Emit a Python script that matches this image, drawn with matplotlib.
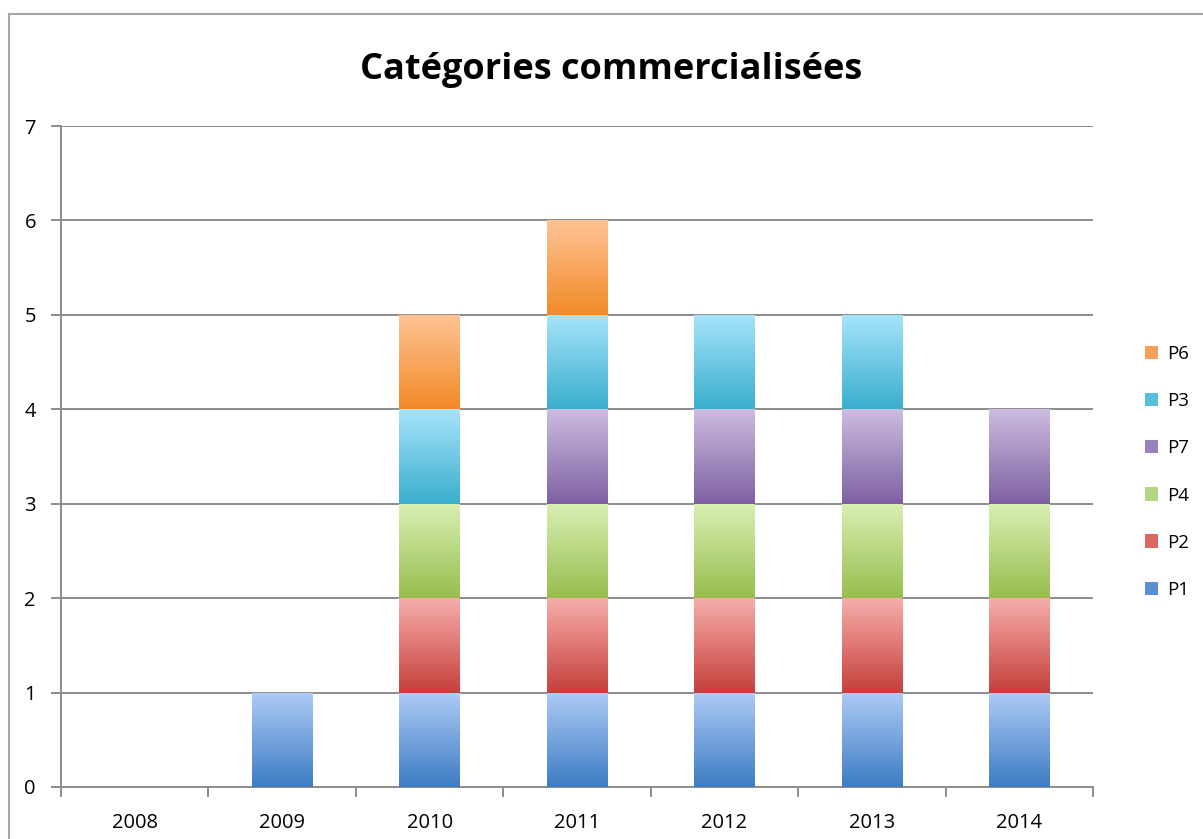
import numpy as np
import matplotlib.pyplot as plt
from matplotlib.patches import Patch, Rectangle
from matplotlib.colors import LinearSegmentedColormap

years = ["2008", "2009", "2010", "2011", "2012", "2013", "2014"]

# stacking order bottom -> top
series_names = ["P1", "P2", "P4", "P7", "P3", "P6"]
p1 = [0, 1, 1, 1, 1, 1, 1]
p2 = [0, 0, 1, 1, 1, 1, 1]
p4 = [0, 0, 1, 1, 1, 1, 1]
p7 = [0, 0, 0, 1, 1, 1, 1]
p3 = [0, 0, 1, 1, 1, 1, 0]
p6 = [0, 0, 1, 1, 0, 0, 0]

# (top light, bottom dark)
colors = {
    "P1": ("#aecbf6", "#3d7cc3"),
    "P2": ("#f6aeab", "#c63f3b"),
    "P4": ("#d8f0b3", "#98bd4e"),
    "P7": ("#cdbde0", "#7d60a2"),
    "P3": ("#a8e4fb", "#3aaecd"),
    "P6": ("#fdc495", "#f28a28"),
}
legend_colors = {
    "P1": "#5b8fd3", "P2": "#dc6763", "P4": "#b5d585",
    "P7": "#9a83bd", "P3": "#56c0db", "P6": "#f7a05a",
}

plt.rcParams['font.family'] = ['Open Sans', 'DejaVu Sans']

fig = plt.figure(figsize=(12.03, 8.39), dpi=100)
fig.patches.append(Rectangle((9 / 1203, -0.1), 1.1, 1.1 - 14 / 839, transform=fig.transFigure,
                             fill=False, edgecolor="#a6a6a6", linewidth=1.5, zorder=0))
ax = fig.add_axes([61 / 1203, 1 - 787 / 839, (1093 - 61) / 1203, (787 - 126) / 839])

x = np.arange(len(years))
width = 0.41
bottom = np.zeros(len(years))
values = [p1, p2, p4, p7, p3, p6]
grad = np.linspace(0, 1, 256).reshape(-1, 1)
for name, vals in zip(series_names, values):
    vals = np.array(vals, dtype=float)
    bars = ax.bar(x, vals, width, bottom=bottom, color="none", edgecolor="none", zorder=3)
    cmap = LinearSegmentedColormap.from_list(name, [colors[name][1], colors[name][0]])
    for rect, v in zip(bars, vals):
        if v <= 0:
            continue
        x0, y0 = rect.get_x(), rect.get_y()
        w, h = rect.get_width(), rect.get_height()
        im = ax.imshow(grad, cmap=cmap, origin="lower", aspect="auto",
                       extent=(x0, x0 + w, y0, y0 + h), zorder=3)
        im.set_clip_path(rect)
    bottom += vals

ax.set_xlim(-0.5, len(years) - 0.5)
ax.set_ylim(0, 7)
ax.set_yticks(range(0, 8))
ax.yaxis.grid(True, color="#8c8c8c", linewidth=1.4, zorder=1)
ax.set_axisbelow(True)

ax.set_xticks(x)
ax.set_xticklabels(years)
ax.set_xticks(np.arange(-0.5, len(years)), minor=True)
ax.tick_params(axis="x", which="major", length=0, labelsize=14.5, pad=19)
ax.tick_params(axis="x", which="minor", length=7, color="#8c8c8c", width=1.4)
ax.tick_params(axis="y", length=7, color="#8c8c8c", width=1.4, labelsize=14.5, pad=11)

for s in ["top", "right"]:
    ax.spines[s].set_visible(False)
for s in ["left", "bottom"]:
    ax.spines[s].set_color("#8c8c8c")
    ax.spines[s].set_linewidth(1.4)

fig.text(611 / 1203, 1 - 70 / 839, "Catégories commercialisées", ha="center", va="center",
         fontsize=26, fontweight="bold")

handles = [Patch(facecolor=legend_colors[n], edgecolor="none") for n in series_names[::-1]]
fig.legend(handles, series_names[::-1], loc="center left",
           bbox_to_anchor=(1128 / 1203, 1 - 472 / 839), frameon=False,
           fontsize=13.5, handlelength=0.7, handleheight=0.7, handletextpad=0.5,
           labelspacing=1.55)

fig.savefig("out.png", dpi=100)
